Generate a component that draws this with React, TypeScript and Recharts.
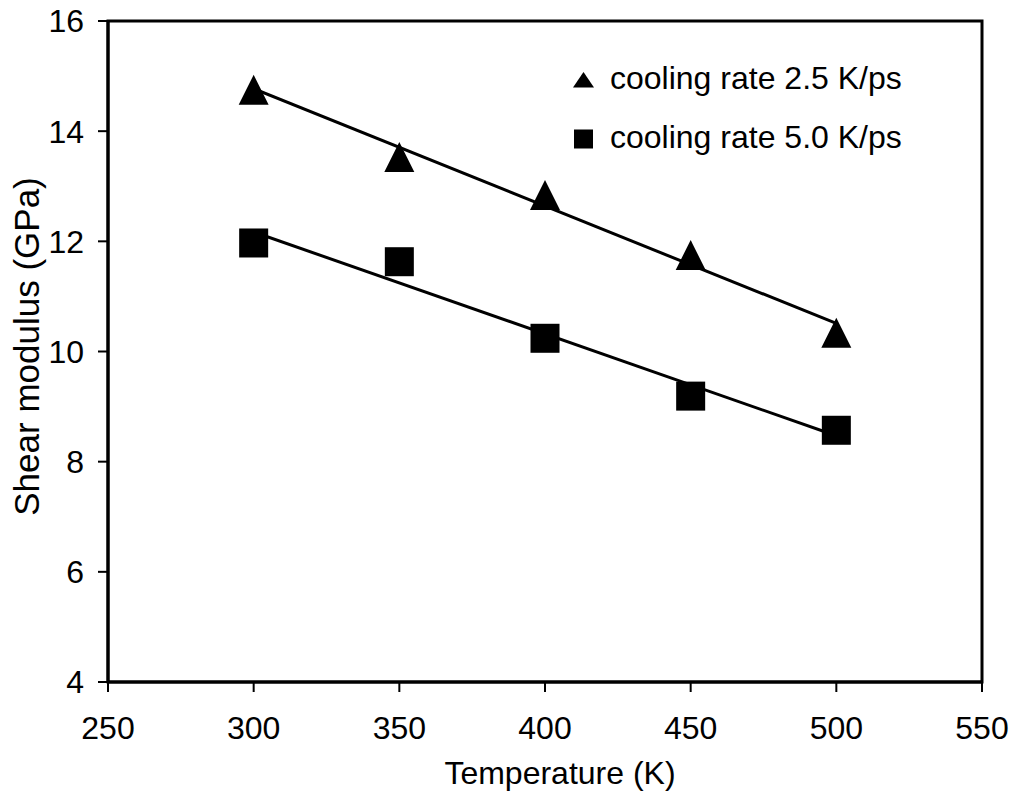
import {
  ScatterChart,
  Scatter,
  XAxis,
  YAxis,
  ReferenceArea,
  Legend,
} from "recharts";

const temperatures = [300, 350, 400, 450, 500];
const modulusSlow = [14.75, 13.53, 12.84, 11.75, 10.34]; // cooling rate 2.5 K/ps
const modulusFast = [11.97, 11.63, 10.24, 9.19, 8.57]; // cooling rate 5.0 K/ps

// linear fit end points
const fitTemps = [300, 500];
const fitSlow = [14.77, 10.51];
const fitFast = [12.17, 8.47];

const xTicks = [250, 300, 350, 400, 450, 500, 550];
const yTicks = [4, 6, 8, 10, 12, 14, 16];

const toPoints = (xs: number[], ys: number[]) => xs.map((x, i) => ({ x, y: ys[i] }));

const slowData = toPoints(temperatures, modulusSlow);
const fastData = toPoints(temperatures, modulusFast);
const slowFit = toPoints(fitTemps, fitSlow);
const fastFit = toPoints(fitTemps, fitFast);

const FONT = "'Liberation Sans', Arial, sans-serif";
const tickStyle = { fontSize: 32, fill: "#000", fontFamily: FONT };

const Triangle = (props: any) => {
  const { cx, cy } = props;
  const h = 15;
  return (
    <polygon
      points={`${cx},${cy - h} ${cx - h},${cy + h} ${cx + h},${cy + h}`}
      fill="#000"
    />
  );
};

const Square = (props: any) => {
  const { cx, cy } = props;
  const s = 14.5;
  return <rect x={cx - s} y={cy - s} width={s * 2} height={s * 2} fill="#000" />;
};

const NoDot = () => <g />;

const renderLegend = (props: any) => {
  const items = (props.payload || []).filter((p: any) => p.type !== "none");
  return (
    <div>
      {items.map((p: any) => (
        <div
          key={p.value}
          style={{ display: "flex", alignItems: "center", height: 59 }}
        >
          <svg width={21} height={20} style={{ marginTop: 4 }}>
            {p.type === "triangle" ? (
              <polygon points="10.5,2 0,17.5 21,17.5" fill="#000" />
            ) : (
              <rect x={1} y={0.5} width={19} height={19} fill="#000" />
            )}
          </svg>
          <span
            style={{
              marginLeft: 16,
              fontSize: 32,
              lineHeight: "32px",
              fontFamily: FONT,
              color: "#000",
              whiteSpace: "nowrap",
            }}
          >
            {p.value}
          </span>
        </div>
      ))}
    </div>
  );
};

export default function App() {
  return (
    <div style={{ background: "#fff", width: 1013, height: 792 }}>
      {/* drop the default body margin so the chart fills the window */}
      <style>{"body{margin:0}"}</style>
      <ScatterChart
        width={1013}
        height={792}
        margin={{ top: 21, right: 31, bottom: 0, left: 0 }}
      >
        <XAxis
          type="number"
          dataKey="x"
          domain={[250, 550]}
          ticks={xTicks}
          allowDataOverflow
          height={110}
          tick={tickStyle}
          tickSize={10}
          tickMargin={24}
          axisLine={{ stroke: "#000", strokeWidth: 3 }}
          tickLine={{ stroke: "#000", strokeWidth: 2 }}
          label={{
            value: "Temperature (K)",
            position: "insideBottom",
            offset: 8,
            dx: 15,
            style: { fontSize: 32, fill: "#000", fontFamily: FONT },
          }}
        />
        <YAxis
          type="number"
          dataKey="y"
          domain={[4, 16]}
          ticks={yTicks}
          allowDataOverflow
          width={108}
          tick={tickStyle}
          tickSize={10}
          tickMargin={14}
          axisLine={{ stroke: "#000", strokeWidth: 3 }}
          tickLine={{ stroke: "#000", strokeWidth: 2 }}
          label={{
            value: "Shear modulus (GPa)",
            angle: -90,
            position: "center",
            dx: -27,
            dy: -5,
            style: { fontSize: 35, fill: "#000", fontFamily: FONT, textAnchor: "middle" },
          }}
        />
        <ReferenceArea
          x1={250}
          x2={550}
          y1={4}
          y2={16}
          fill="none"
          stroke="#000"
          strokeWidth={3}
          ifOverflow="visible"
        />
        <Scatter
          data={slowFit}
          line={{ stroke: "#000", strokeWidth: 3 }}
          shape={NoDot}
          legendType="none"
          isAnimationActive={false}
        />
        <Scatter
          data={fastFit}
          line={{ stroke: "#000", strokeWidth: 3 }}
          shape={NoDot}
          legendType="none"
          isAnimationActive={false}
        />
        <Scatter
          name="cooling rate 2.5 K/ps"
          data={slowData}
          shape={Triangle}
          legendType="triangle"
          fill="#000"
          isAnimationActive={false}
        />
        <Scatter
          name="cooling rate 5.0 K/ps"
          data={fastData}
          shape={Square}
          legendType="square"
          fill="#000"
          isAnimationActive={false}
        />
        <Legend
          layout="vertical"
          align="center"
          verticalAlign="middle"
          content={renderLegend}
          wrapperStyle={{ top: 48, left: 573, width: "auto" }}
        />
      </ScatterChart>
    </div>
  );
}
